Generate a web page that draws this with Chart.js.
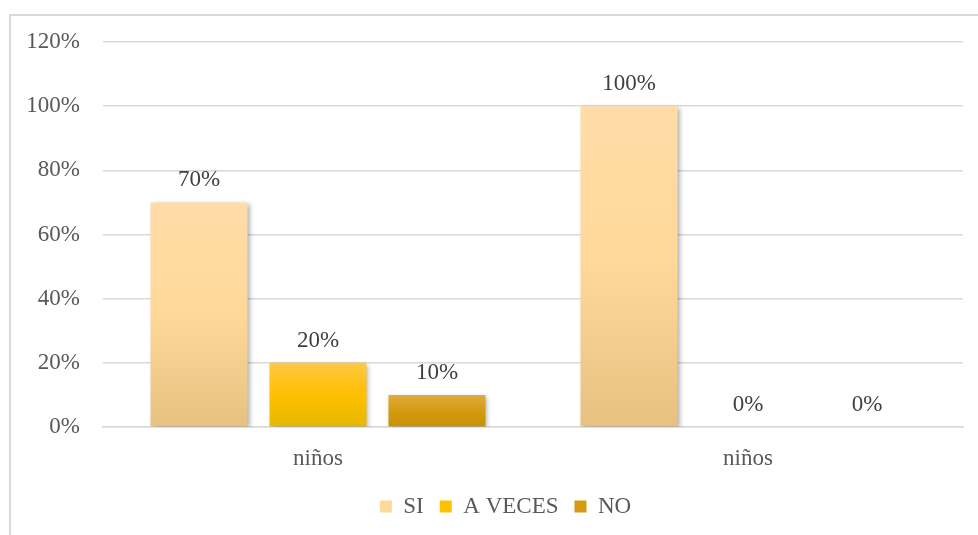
<!DOCTYPE html>
<html>
<head>
<meta charset="utf-8">
<script src="https://cdn.jsdelivr.net/npm/chart.js@4/dist/chart.umd.min.js"></script>
<style>
  html, body { margin: 0; padding: 0; background: #fff; }
  #wrap { position: relative; width: 978px; height: 535px; }
  #frame { position: absolute; left: 9px; top: 14px; right: 0; bottom: 0;
           border-top: 2px solid #d9d9d9; border-left: 2px solid #d9d9d9; box-sizing: border-box; }
  canvas { position: absolute; left: 0; top: 0; }
</style>
</head>
<body>
<div id="wrap">
  <div id="frame"></div>
  <canvas id="c" width="978" height="535"></canvas>
</div>
<script>
const categories = ['niños', 'niños'];
const seriesNames = ['SI', 'A VECES', 'NO'];
const siValues = [70, 100];
const aVecesValues = [20, 0];
const noValues = [10, 0];
const yTicks = [0, 20, 40, 60, 80, 100, 120];

const FONT = '"Liberation Serif", "Times New Roman", serif';
const FSIZE = 23;

const gradStops = [
  ['#FFDDA8', '#FFD899', '#E6C180'],
  ['#FFC843', '#FFC000', '#E6B700'],
  ['#DFAB40', '#D49B12', '#C99000']
];
const solid = ['#FDD99C', '#FFC000', '#D59A12'];

function barGradient(idx) {
  return function (ctx) {
    const chart = ctx.chart;
    if (!chart.chartArea || ctx.type !== 'data') return solid[idx];
    const y = chart.scales.y;
    const v = ctx.raw;
    const top = y.getPixelForValue(v);
    const base = y.getPixelForValue(0);
    if (Math.abs(base - top) < 1) return solid[idx];
    const g = chart.ctx.createLinearGradient(0, top, 0, base);
    g.addColorStop(0, gradStops[idx][0]);
    g.addColorStop(0.5, gradStops[idx][1]);
    g.addColorStop(1, gradStops[idx][2]);
    return g;
  };
}

const shadowPlugin = {
  id: 'barShadow',
  beforeDatasetsDraw(chart) {
    const c = chart.ctx;
    c.save();
    c.shadowColor = 'rgba(0,0,0,0.35)';
    c.shadowBlur = 5;
    c.shadowOffsetX = 2;
    c.shadowOffsetY = 2;
  },
  afterDatasetsDraw(chart) {
    chart.ctx.restore();
  }
};

const labelPlugin = {
  id: 'valueLabels',
  afterDatasetsDraw(chart) {
    const c = chart.ctx;
    c.save();
    c.font = FSIZE + 'px ' + FONT;
    c.fillStyle = '#404040';
    c.textAlign = 'center';
    c.textBaseline = 'middle';
    chart.data.datasets.forEach((ds, di) => {
      const meta = chart.getDatasetMeta(di);
      meta.data.forEach((bar, i) => {
        c.fillText(ds.data[i] + '%', bar.x, bar.y - 22);
      });
    });
    c.restore();
  }
};

const legendShift = {
  id: 'legendShift',
  afterLayout(chart) {
    if (chart.legend) {
      chart.legend.left += 24;
      chart.legend.right += 24;
    }
  }
};

const seriesValues = [siValues, aVecesValues, noValues];

new Chart(document.getElementById('c'), {
  type: 'bar',
  data: {
    labels: categories,
    datasets: seriesNames.map((name, i) => ({
      label: name,
      data: seriesValues[i],
      backgroundColor: barGradient(i),
      borderWidth: 0,
      categoryPercentage: 0.83,
      barPercentage: 0.815
    }))
  },
  plugins: [shadowPlugin, labelPlugin, legendShift],
  options: {
    responsive: false,
    animation: false,
    devicePixelRatio: 1,
    layout: { padding: { left: 0, right: 15, top: 42, bottom: 7 } },
    plugins: {
      tooltip: { enabled: false },
      legend: {
        position: 'bottom',
        labels: {
          color: '#595959',
          font: { family: FONT, size: FSIZE },
          boxWidth: 12,
          boxHeight: 12,
          padding: 16,
          generateLabels(chart) {
            return seriesNames.map((n, i) => ({
              text: n,
              fillStyle: solid[i],
              strokeStyle: solid[i],
              lineWidth: 0,
              datasetIndex: i,
              fontColor: '#595959'
            }));
          }
        }
      }
    },
    scales: {
      x: {
        afterFit(scale) { scale.height = 52; },
        grid: { display: false, drawTicks: false },
        border: { display: true, color: '#d9d9d9', width: 1.5 },
        ticks: {
          color: '#595959',
          padding: 18,
          font: { family: FONT, size: FSIZE }
        }
      },
      y: {
        min: 0,
        max: 120,
        afterFit(scale) { scale.width = 103; },
        afterBuildTicks(scale) { scale.ticks = yTicks.map(v => ({ value: v })); },
        grid: { color: '#d9d9d9', lineWidth: 1.5, drawTicks: false },
        border: { display: false },
        ticks: {
          color: '#595959',
          padding: 23,
          font: { family: FONT, size: FSIZE },
          callback: v => v + '%'
        }
      }
    }
  }
});
</script>
</body>
</html>
